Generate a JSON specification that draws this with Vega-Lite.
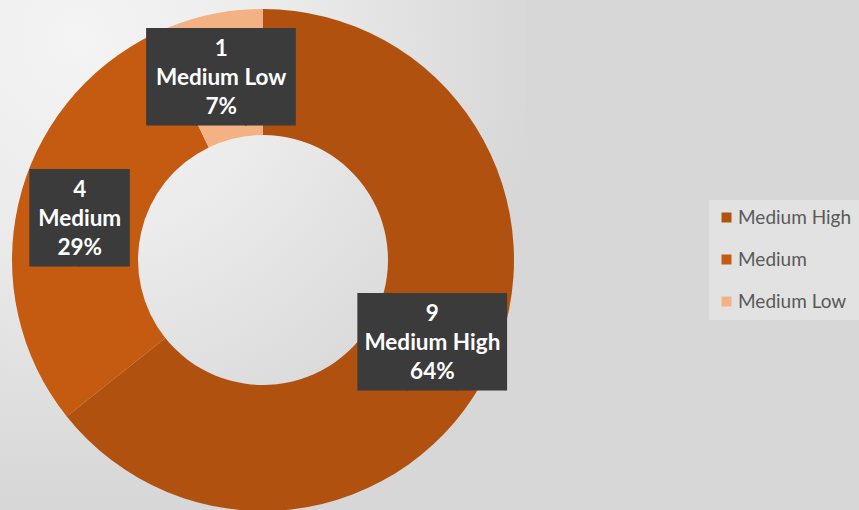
{
  "$schema": "https://vega.github.io/schema/vega-lite/v6.json",
  "width": 526,
  "height": 520,
  "autosize": {"type": "none"},
  "padding": {"left": 0, "top": 0, "right": 333, "bottom": -10},
  "background": "#d7d7d7",
  "view": {
    "stroke": null,
    "fill": {
      "gradient": "radial",
      "x1": 0.15, "y1": 0.08, "r1": 0,
      "x2": 0.15, "y2": 0.08, "r2": 0.88,
      "stops": [
        {"offset": 0, "color": "#f4f4f4"},
        {"offset": 0.45, "color": "#ebebeb"},
        {"offset": 1, "color": "#d7d7d7"}
      ]
    }
  },
  "data": {
    "values": [
      {"level": "Medium High", "count": 9, "label": ["9", "Medium High", "64%"]},
      {"level": "Medium", "count": 4, "label": ["4", "Medium", "29%"]},
      {"level": "Medium Low", "count": 1, "label": ["1", "Medium Low", "7%"]}
    ]
  },
  "encoding": {
    "theta": {"field": "count", "type": "quantitative", "stack": true},
    "order": {"field": "count", "sort": "descending"}
  },
  "layer": [
    {
      "mark": {"type": "arc", "innerRadius": 125, "outerRadius": 251, "stroke": null},
      "encoding": {
        "color": {
          "field": "level",
          "type": "nominal",
          "scale": {
            "domain": ["Medium High", "Medium", "Medium Low"],
            "range": ["#b1510f", "#c55a11", "#f4b183"]
          },
          "legend": {
            "orient": "none",
            "legendX": 709,
            "legendY": 200,
            "title": null,
            "symbolType": "square",
            "symbolSize": 100,
            "symbolStrokeWidth": 0,
            "labelFont": "Lato",
            "labelFontSize": 19,
            "labelColor": "#595959",
            "labelOffset": 2,
            "rowPadding": 22,
            "padding": 8,
            "fillColor": "#e2e2e2"
          }
        }
      }
    },
    {
      "mark": {
        "type": "text",
        "radius": 188,
        "font": "DejaVu Sans Mono",
        "fontSize": 82,
        "lineHeight": 95,
        "align": "center",
        "baseline": "middle",
        "dy": 3,
        "color": "#3b3b3b"
      },
      "encoding": {
        "text": {
          "condition": {"test": "datum.level === 'Medium'", "value": "██"},
          "value": "███"
        }
      }
    },
    {
      "mark": {
        "type": "text",
        "radius": 188,
        "font": "Lato",
        "fontWeight": "bold",
        "fontSize": 22.5,
        "lineHeight": 29,
        "align": "center",
        "baseline": "middle",
        "dy": -28,
        "color": "#ffffff"
      },
      "encoding": {
        "text": {"field": "label", "type": "nominal"}
      }
    }
  ]
}
